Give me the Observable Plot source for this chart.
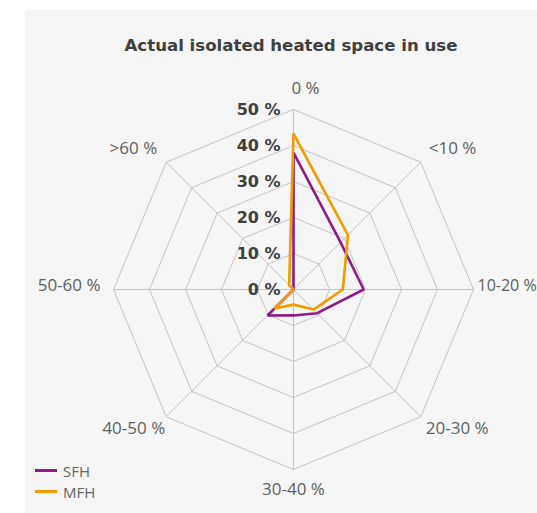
<!DOCTYPE html>
<html>
<head>
<meta charset="utf-8">
<script src="https://cdn.jsdelivr.net/npm/d3@7"></script>
<script src="https://cdn.jsdelivr.net/npm/@observablehq/plot@0.6"></script>
<style>
  html, body { margin: 0; padding: 0; background: #ffffff; }
  #wrap { position: relative; width: 537px; height: 513px; overflow: hidden; font-family: "DejaVu Sans", sans-serif; }
  #panel { position: absolute; left: 25px; top: 10px; width: 512px; height: 503px; background: #f5f5f5; }
  #chart { position: absolute; left: 0; top: 0; }
  #title { position: absolute; left: 291px; top: 36px; transform: translateX(-50%); white-space: nowrap;
           font-size: 16.6px; font-weight: bold; color: #404040; }
  #legend { position: absolute; left: 35px; top: 460px; font-size: 15px; color: #666666; font-family: "Open Sans", sans-serif; }
  .item { display: flex; align-items: center; height: 21px; }
  .sw { width: 22px; height: 3px; margin-right: 6px; }
</style>
</head>
<body>
<div id="wrap">
  <div id="panel"></div>
  <div id="chart"></div>
  <div id="title">Actual isolated heated space in use</div>
  <div id="legend"></div>
</div>
<script>
// ---- data ----
const categories = ["0 %", "<10 %", "10-20 %", "20-30 %", "30-40 %", "40-50 %", "50-60 %", ">60 %"];
const sfh = [38, 18.5, 19.5, 9.3, 7.2, 10.2, 0, 0];
const mfh = [43.3, 21.4, 13.7, 7.9, 4.2, 7.5, 0, 1.7];
const seriesNames = ["SFH", "MFH"];
const radialTicks = [0, 10, 20, 30, 40, 50];
const tickLabels = ["0 %", "10 %", "20 %", "30 %", "40 %", "50 %"];

// ---- layout ----
const W = 537, H = 513;
const cx = 293, cy = 289;       // pixel centre of the radar
const k = 3.6;                  // pixels per percentage point
const colors = ["#8e1b86", "#f39a00"];
const n = categories.length;
const ang = i => i * 2 * Math.PI / n;
const px = (r, i) => r * Math.sin(ang(i));
const py = (r, i) => r * Math.cos(ang(i));
const rMax = radialTicks[radialTicks.length - 1];

// label offsets in pixels from the outer vertex [dx, dy(down), anchor, font size]
const labelOffsets = [
  [12, -21, "middle", 17], [8, -14, "start", 17], [4, -4, "start", 16], [5, 12, "start", 17],
  [0, 20, "middle", 17], [-1, 12, "end", 17], [-13, -4, "end", 17], [-9, -14, "end", 17]
];

const rings = radialTicks.filter(t => t > 0).flatMap(t =>
  d3.range(n + 1).map(j => ({t, x: px(t, j % n), y: py(t, j % n)})));
const spokes = categories.map((c, i) => ({x2: px(rMax, i), y2: py(rMax, i)}));
const series = (vals, name) => vals.map((v, i) => ({name, x: px(v, i), y: py(v, i)}));
const labels = categories.map((c, i) => ({
  text: c,
  x: px(rMax, i) + labelOffsets[i][0] / k,
  y: py(rMax, i) - labelOffsets[i][1] / k,
  anchor: labelOffsets[i][2],
  size: labelOffsets[i][3]
}));

const textMarks = ["start", "middle", "end"].map(a =>
  Plot.text(labels.filter(d => d.anchor === a), {
    x: "x", y: "y", text: "text", textAnchor: a, lineAnchor: "middle",
    fill: "#5f5f5f", fontSize: "size", fontFamily: "Open Sans, sans-serif"
  }));

const chart = Plot.plot({
  width: W, height: H,
  marginTop: 0, marginRight: 0, marginBottom: 0, marginLeft: 0,
  x: {domain: [-cx / k, (W - cx) / k], range: [0, W], axis: null},
  y: {domain: [-(H - cy) / k, cy / k], range: [H, 0], axis: null},
  color: {domain: seriesNames, range: colors},
  style: {background: "transparent", overflow: "visible"},
  marks: [
    Plot.line(rings, {x: "x", y: "y", z: "t", stroke: "#c4c4c4", strokeWidth: 1}),
    Plot.link(spokes, {x1: 0, y1: 0, x2: "x2", y2: "y2", stroke: "#c4c4c4", strokeWidth: 1}),
    Plot.line(series(sfh, seriesNames[0]), {x: "x", y: "y", stroke: "name", strokeWidth: 2.6,
      curve: "linear-closed", strokeLinejoin: "miter"}),
    Plot.line(series(mfh, seriesNames[1]), {x: "x", y: "y", stroke: "name", strokeWidth: 2.6,
      curve: "linear-closed", strokeLinejoin: "miter"}),
    ...textMarks,
    Plot.text(radialTicks, {x: 0, y: d => d, text: (d, i) => tickLabels[i], textAnchor: "end",
      lineAnchor: "middle", dx: -13, fontWeight: "bold", fontSize: 16, fill: "#404040",
      fontFamily: "DejaVu Sans, sans-serif"})
  ]
});
document.getElementById("chart").appendChild(chart);

const legend = document.getElementById("legend");
seriesNames.forEach((s, i) => {
  const item = document.createElement("div");
  item.className = "item";
  item.innerHTML = `<span class="sw" style="background:${colors[i]}"></span><span>${s}</span>`;
  legend.appendChild(item);
});
</script>
</body>
</html>
